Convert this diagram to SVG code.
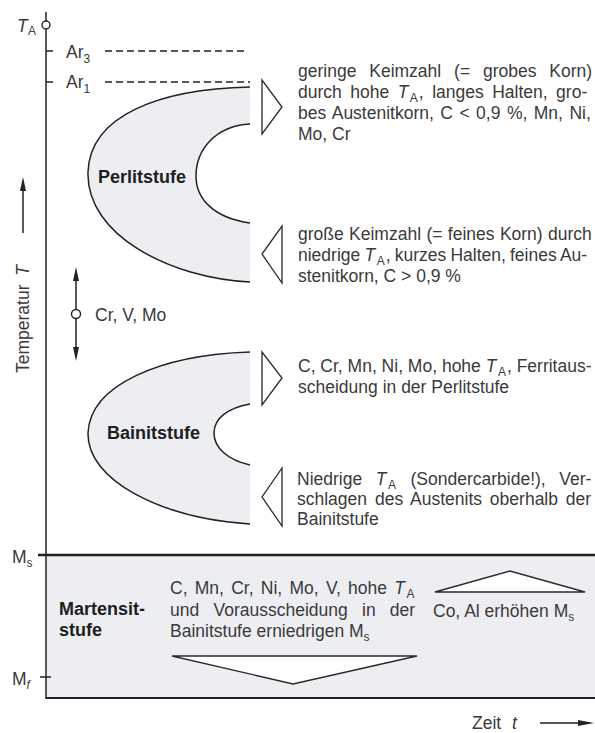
<svg xmlns="http://www.w3.org/2000/svg" width="595" height="733" viewBox="0 0 595 733">
<style>
.t{font-family:"Liberation Sans",Arial,sans-serif;font-size:17.5px;fill:#3a3a3a}
.b{font-family:"Liberation Sans",Arial,sans-serif;font-size:18px;font-weight:bold;fill:#1e1e1e}
.i{font-style:italic}
.sub{font-size:12px}
.ln{stroke:#222;stroke-width:1.5;fill:none}
.dash{stroke:#222;stroke-width:1.4;stroke-dasharray:7 4;fill:none}
.tri{fill:#fff;stroke:#2a2a2a;stroke-width:1.3;stroke-linejoin:miter}
.zone{fill:#eceef2;stroke:none}
.head{fill:#222;stroke:none}
</style>
<rect width="595" height="733" fill="#fff"/>

<g id="martensit">
<rect class="zone" x="46" y="555" width="549" height="143"/>
<line x1="38" y1="555" x2="595" y2="555" stroke="#222" stroke-width="2.5"/>
<line x1="46" y1="698" x2="595" y2="698" stroke="#222" stroke-width="2"/>
<text class="b" x="59" y="615">Martensit-</text>
<text class="b" x="59" y="636">stufe</text>
<text class="t" x="170" y="594" word-spacing="2.4">C, Mn, Cr, Ni, Mo, V, hohe <tspan class="i">T</tspan><tspan class="sub" dx="1.5" dy="4">A</tspan></text>
<text class="t" x="170" y="616" word-spacing="9.4">und Vorausscheidung in der</text>
<text class="t" x="170" y="637">Bainitstufe erniedrigen M<tspan class="sub" dy="4">s</tspan></text>
<polygon class="tri" points="172,656 417,656 293,684"/>
<polygon class="tri" points="435,592 585,592 510,571"/>
<text class="t" x="433" y="617">Co, Al erhöhen M<tspan class="sub" dy="4">s</tspan></text>
</g>

<g id="axis">
<line class="ln" x1="46" y1="12" x2="46" y2="699"/>
<circle cx="46" cy="25" r="4" fill="#fff" stroke="#222" stroke-width="1.4"/>
<text class="t i" x="17" y="32">T</text><text class="t sub" x="28" y="35">A</text>
<line class="ln" x1="46" y1="51" x2="53" y2="51"/>
<line class="ln" x1="46" y1="82" x2="53" y2="82"/>
<line class="ln" x1="40" y1="677" x2="51" y2="677"/>
<text class="t" x="66" y="58">Ar<tspan class="sub" dy="5">3</tspan></text>
<text class="t" x="66" y="88">Ar<tspan class="sub" dy="5">1</tspan></text>
<text class="t" x="12" y="563">M<tspan class="sub" dy="4">s</tspan></text>
<text class="t" x="12" y="685">M<tspan class="sub" dy="4" font-style="italic">f</tspan></text>
<line class="dash" x1="105" y1="51" x2="248" y2="51"/>
<line class="dash" x1="105" y1="82" x2="250" y2="82"/>
<text class="t" transform="translate(29,373) rotate(-90)">Temperatur <tspan class="i" dx="4">T</tspan></text>
<text class="t" x="472" y="729">Zeit <tspan class="i" dx="6">t</tspan></text>
</g>

<g id="perlitstufe">
<path class="zone" d="M250,87 C160,89 90,115 88,172 C86,235 170,278 250,282 L250,223 C215,218 196,200 196,176 C196,150 215,126 250,124 Z"/>
<path class="ln" d="M250,87 C160,89 90,115 88,172 C86,235 170,278 250,282"/>
<path class="ln" d="M250,124 C215,126 196,150 196,176 C196,200 215,218 250,223"/>
<text class="b" x="98" y="183">Perlitstufe</text>
</g>

<g id="bainitstufe">
<path class="zone" d="M250,352 C160,355 90,385 88,433 C87,480 160,518 250,524 L250,465 C228,460 214,448 214,433 C214,418 228,408 250,404 Z"/>
<path class="ln" d="M250,352 C160,355 90,385 88,433 C87,480 160,518 250,524"/>
<path class="ln" d="M250,404 C228,408 214,418 214,433 C214,448 228,460 250,465"/>
<text class="b" x="107" y="439">Bainitstufe</text>
</g>

<g id="note-perlit-right">
<polygon class="tri" points="262,80 262,134 282,107"/>
<text class="t" x="298" y="77" word-spacing="8">geringe Keimzahl (= grobes Korn)</text>
<text class="t" x="298" y="98" word-spacing="3.6">durch hohe <tspan class="i">T</tspan><tspan class="sub" dx="1.5" dy="4">A</tspan><tspan dx="1" dy="-4">, langes Halten, gro-</tspan></text>
<text class="t" x="298" y="119" word-spacing="1.6">bes Austenitkorn, C &lt; 0,9 %, Mn, Ni,</text>
<text class="t" x="298" y="140">Mo, Cr</text>
</g>

<g id="note-perlit-left">
<polygon class="tri" points="282,226 282,283 262,254"/>
<text class="t" x="298" y="240" word-spacing="0.5">große Keimzahl (= feines Korn) durch</text>
<text class="t" x="298" y="261" word-spacing="-0.7">niedrige <tspan class="i">T</tspan><tspan class="sub" dx="1.5" dy="4">A</tspan><tspan dx="1" dy="-4">, kurzes Halten, feines Au-</tspan></text>
<text class="t" x="298" y="282">stenitkorn, C &gt; 0,9 %</text>
</g>

<g id="note-bainit-right">
<polygon class="tri" points="262,352 262,405 282,378"/>
<text class="t" x="298" y="372" word-spacing="0">C, Cr, Mn, Ni, Mo, hohe <tspan class="i">T</tspan><tspan class="sub" dx="1.5" dy="4">A</tspan><tspan dx="1" dy="-4">, Ferritaus-</tspan></text>
<text class="t" x="298" y="393">scheidung in der Perlitstufe</text>
</g>

<g id="note-bainit-left">
<polygon class="tri" points="282,468 282,526 262,497"/>
<text class="t" x="297" y="485" word-spacing="8.7">Niedrige <tspan class="i">T</tspan><tspan class="sub" dx="1.5" dy="4">A</tspan><tspan dx="1" dy="-4"> (Sondercarbide!), Ver-</tspan></text>
<text class="t" x="297" y="505" word-spacing="3">schlagen des Austenits oberhalb der</text>
<text class="t" x="297" y="525">Bainitstufe</text>
</g>

<g id="crvmo">
<text class="t" x="95" y="321">Cr, V, Mo</text>
</g>

<g id="connectors">
<line class="ln" x1="23" y1="233" x2="23" y2="186"/>
<polygon class="head" points="23,177 20,191 26,191"/>
<line class="ln" x1="76" y1="277" x2="76" y2="351"/>
<polygon class="head" points="76,267 73,281 79,281"/>
<polygon class="head" points="76,361 73,347 79,347"/>
<circle cx="76" cy="314" r="4.5" fill="#fff" stroke="#222" stroke-width="1.4"/>
<line class="ln" x1="540" y1="723" x2="580" y2="723"/>
<polygon class="head" points="594,723 578,720 578,726"/>
</g>
</svg>
